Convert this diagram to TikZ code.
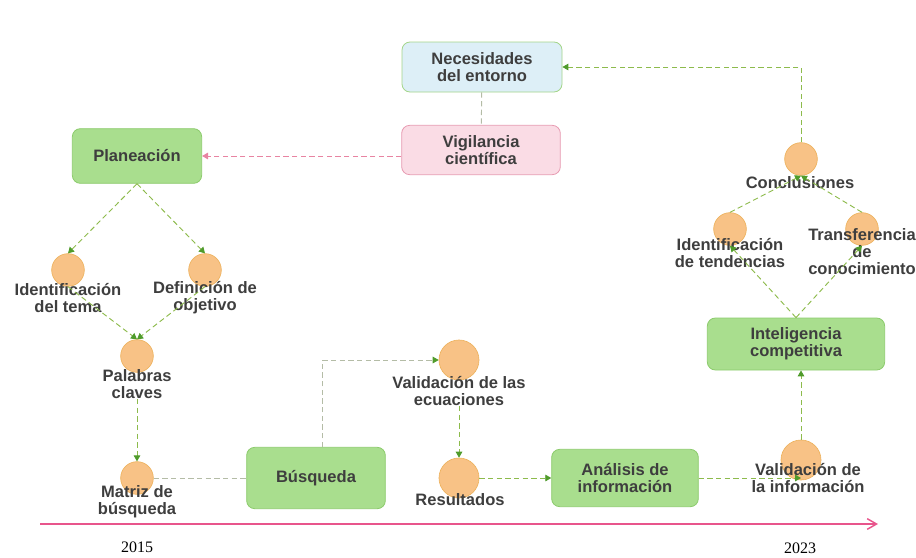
\documentclass[tikz,border=0pt]{standalone}
\usepackage{fontspec}
\setmainfont{Liberation Sans}
\newfontfamily\yearfont{Liberation Serif}
\usetikzlibrary{arrows.meta}
\definecolor{boxgreen}{HTML}{A9DE8E}
\definecolor{boxgreenline}{HTML}{8CCB6C}
\definecolor{boxblue}{HTML}{DDEFF7}
\definecolor{boxpink}{HTML}{FADCE5}
\definecolor{boxpinkline}{HTML}{E79AB1}
\definecolor{dotfill}{HTML}{F8C286}
\definecolor{dotline}{HTML}{EDB25E}
\definecolor{inkgrey}{HTML}{3E3E3E}
\definecolor{linkgreen}{HTML}{8DBB4C}
\definecolor{tipgreen}{HTML}{4F9B2B}
\definecolor{linkgrey}{HTML}{B4BCA6}
\definecolor{linkpink}{HTML}{E884A2}
\definecolor{timepink}{HTML}{E8558C}

\begin{document}
\begin{tikzpicture}[x=.75pt,y=-.75pt,
    font=\fontsize{12.4}{12.8}\selectfont\bfseries,text=inkgrey,
    stagebox/.style={draw=boxgreenline,fill=boxgreen,rounded corners=6pt,line width=.6pt,align=center},
    stepdot/.style={circle,draw=dotline,fill=dotfill,line width=.5pt,minimum size=24.5pt,inner sep=0pt},
    bigdot/.style={stepdot,minimum size=30pt},
    steplab/.style={align=center,inner sep=0pt},
    flow/.style={draw=linkgreen,line width=.7pt,dash pattern=on 4pt off 2.5pt,
      -{Triangle[length=4.5pt,width=5pt,color=tipgreen]}},
    plain/.style={draw=linkgrey,line width=.7pt,dash pattern=on 4pt off 2.5pt}]
  \useasboundingbox (0,0) rectangle (916,557);

  % boxes
  \node[stagebox,draw=boxgreenline!80,fill=boxblue,minimum width=120pt,minimum height=37.5pt] (nec) at (482,67) {Necesidades\\del entorno};
  \node[stagebox,draw=boxpinkline,fill=boxpink,minimum width=119pt,minimum height=37pt] (vig) at (481,150) {Vigilancia\\científica};
  \node[stagebox,minimum width=97pt,minimum height=41pt] (plan) at (137,156) {Planeación};
  \node[stagebox,minimum width=104pt,minimum height=46pt] (bus) at (316,478) {Búsqueda};
  \node[stagebox,minimum width=110pt,minimum height=43pt] (ana) at (625,478) {Análisis de\\información};
  \node[stagebox,minimum width=133pt,minimum height=39pt] (intel) at (796,344) {Inteligencia\\competitiva};

  % steps
  \node[stepdot] (tema) at (68,270) {};
  \node[stepdot] (obj) at (205,270) {};
  \node[stepdot] (pal) at (137,356) {};
  \node[stepdot] (mat) at (137,478) {};
  \node[bigdot] (ecu) at (459,360) {};
  \node[bigdot] (res) at (459,478) {};
  \node[bigdot] (vinf) at (801,460) {};
  \node[stepdot] (tend) at (730,229) {};
  \node[stepdot] (trans) at (862,229) {};
  \node[stepdot] (concl) at (801,159) {};

  \node[steplab] (tema-l) at (68,298) {Identificación\\del tema};
  \node[steplab] (obj-l) at (205,298) {Definición de\\objetivo};
  \node[steplab] (pal-l) at (137,384) {Palabras\\claves};
  \node[steplab] (mat-l) at (137,502) {Matriz de\\búsqueda};
  \node[steplab] (ecu-l) at (459,391) {Validación de las\\ecuaciones};
  \node[steplab] (res-l) at (460,500) {Resultados};
  \node[steplab] (vinf-l) at (808,478) {Validación de\\la información};
  \node[steplab] (concl-l) at (800,183) {Conclusiones};
  \node[steplab] (tend-l) at (730,253) {Identificación\\de tendencias};
  \node[steplab] (trans-l) at (862,252) {Transferencia\\de\\conocimiento};

  % links
  \draw[plain] (nec) -- (vig);
  \draw[draw=linkpink,line width=.7pt,dash pattern=on 4pt off 2.5pt,-{Triangle[length=4.5pt,width=5pt,color=linkpink]}]
    (vig.west |- plan.east) -- (plan.east);
  \draw[flow] (concl.north) |- (nec.east);
  \draw[flow] (plan.south) -- (tema.north);
  \draw[flow] (plan.south) -- (obj.north);
  \draw[flow] (tema.south) -- (pal.north);
  \draw[flow] (obj.south) -- (pal.north);
  \draw[flow] (pal-l.south) -- (mat.north);
  \draw[plain] (mat.east) -- (bus.west);
  \draw[plain,-{Triangle[length=4.5pt,width=5pt,color=tipgreen]}] ([xshift=5pt]bus.north) |- (ecu.west);
  \draw[flow] (ecu-l.south) -- (res.north);
  \draw[flow] (res.east) -- (ana.west);
  \draw[flow] (ana.east) -- (ana.east -| vinf.south);
  \draw[flow] (vinf.north) -- (vinf.north |- intel.south);
  \draw[flow] (intel.north) -- (tend.south);
  \draw[flow] (intel.north) -- (trans.south);
  \draw[flow] (tend.north) -- (concl.south);
  \draw[flow] (trans.north) -- (concl.south);

  % time line
  \coordinate (t0) at (40,524);
  \coordinate (t1) at (878,524);
  \draw[draw=timepink,line width=1.1pt,-{Straight Barb[length=7pt,width=8pt]}] (t0) -- (t1);
  \node[font=\yearfont\fontsize{12}{14}\selectfont,text=black] (y15) at (137,547) {2015};
  \node[font=\yearfont\fontsize{12}{14}\selectfont,text=black] (y23) at (800,548) {2023};
\end{tikzpicture}
\end{document}
